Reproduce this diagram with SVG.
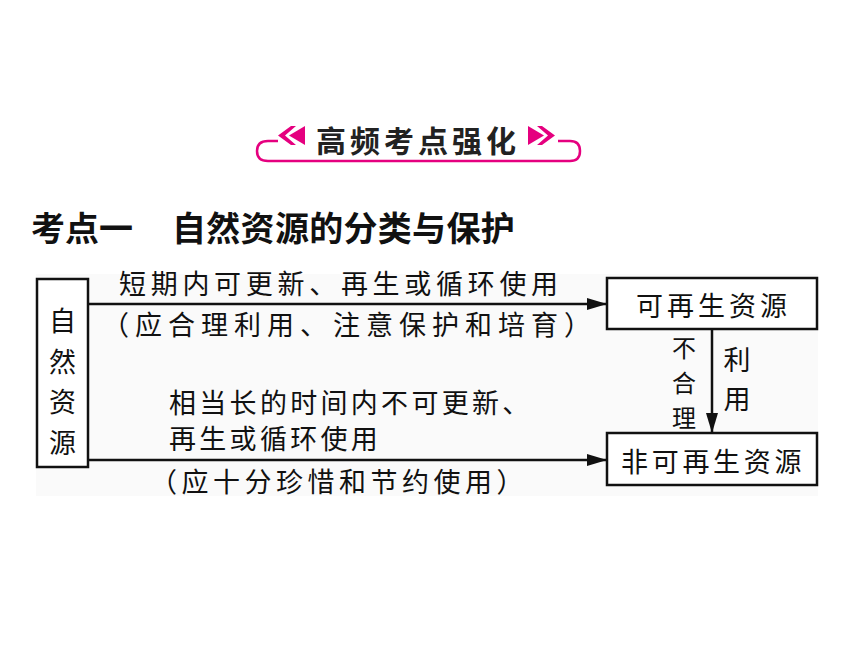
<svg xmlns="http://www.w3.org/2000/svg" width="860" height="645" viewBox="0 0 860 645">
<style>
.t{font-family:"Noto Sans CJK SC","Noto Sans",sans-serif;fill:#111;}
.b{font-size:27px;dominant-baseline:central;}
.box{fill:#fff;stroke:#111;stroke-width:2.5;}
.ln{stroke:#111;stroke-width:2.5;fill:none;}
.pk{fill:#e5007f;}
</style>
<defs>
<marker id="ah" markerUnits="userSpaceOnUse" markerWidth="22" markerHeight="14" refX="20" refY="6" orient="auto">
<path d="M0,0 L20,6 L0,12 z" fill="#111"/>
</marker>
</defs>
<rect width="860" height="645" fill="#fff"/>
<rect x="36" y="274" width="782" height="222" fill="#fafafa"/>

<g id="banner">
<path d="M278,141 H268 Q257,141 257,151 Q257,161 268,161 H570 Q580,161 580,151 Q580,141 570,141 H558" fill="none" stroke="#e5007f" stroke-width="2.5"/>
<polygon class="pk" points="278,135.5 291,126 296,126 285,135.5 296,145 291,145"/>
<polygon class="pk" points="289,135.5 305,126 305,145"/>
<polygon class="pk" points="555,135.5 542,126 537,126 548,135.5 537,145 542,145"/>
<polygon class="pk" points="544,135.5 528,126 528,145"/>
<text class="t" x="316" y="139" style="font-size:30px;font-weight:700;letter-spacing:4px;dominant-baseline:central;fill:#222">高频考点强化</text>
</g>

<g id="heading">
<text class="t" x="31" y="226" style="font-size:34px;font-weight:700;letter-spacing:0px;dominant-baseline:central">考点一</text>
<text class="t" x="172" y="226" style="font-size:34px;font-weight:700;letter-spacing:0.3px;dominant-baseline:central">自然资源的分类与保护</text>
</g>

<g id="connectors">
<line class="ln" x1="88" y1="304" x2="607" y2="304" marker-end="url(#ah)"/>
<line class="ln" x1="88" y1="460" x2="607" y2="460" marker-end="url(#ah)"/>
<line class="ln" x1="712" y1="329" x2="712" y2="433" marker-end="url(#ah)"/>
<text class="t b" x="119" y="282" style="letter-spacing:4.7px">短期内可更新、再生或循环使用</text>
<text class="t b" x="102" y="323" style="letter-spacing:6px">（应合理利用、注意保护和培育）</text>
<text class="t b" x="169" y="401.5" style="letter-spacing:3.3px">相当长的时间内不可更新、</text>
<text class="t b" x="169" y="437.5" style="letter-spacing:3.3px">再生或循环使用</text>
<text class="t b" x="150" y="480" style="letter-spacing:4.5px">（应十分珍惜和节约使用）</text>
<text class="t b" text-anchor="middle" style="font-size:24px"><tspan x="684" y="346">不</tspan><tspan x="684" y="381">合</tspan><tspan x="684" y="416">理</tspan></text>
<text class="t b" text-anchor="middle"><tspan x="737" y="358">利</tspan><tspan x="737" y="397">用</tspan></text>
</g>

<g id="node-natural">
<rect class="box" x="37" y="279" width="51" height="188"/>
<text class="t b" text-anchor="middle"><tspan x="62.5" y="319">自</tspan><tspan x="62.5" y="360">然</tspan><tspan x="62.5" y="400">资</tspan><tspan x="62.5" y="441">源</tspan></text>
</g>

<g id="node-renewable">
<rect class="box" x="607" y="278" width="210" height="51"/>
<text class="t b" x="636" y="304" style="letter-spacing:4px">可再生资源</text>
</g>

<g id="node-nonrenewable">
<rect class="box" x="607" y="433" width="210" height="52"/>
<text class="t b" x="621" y="460" style="letter-spacing:3.7px">非可再生资源</text>
</g>
</svg>
